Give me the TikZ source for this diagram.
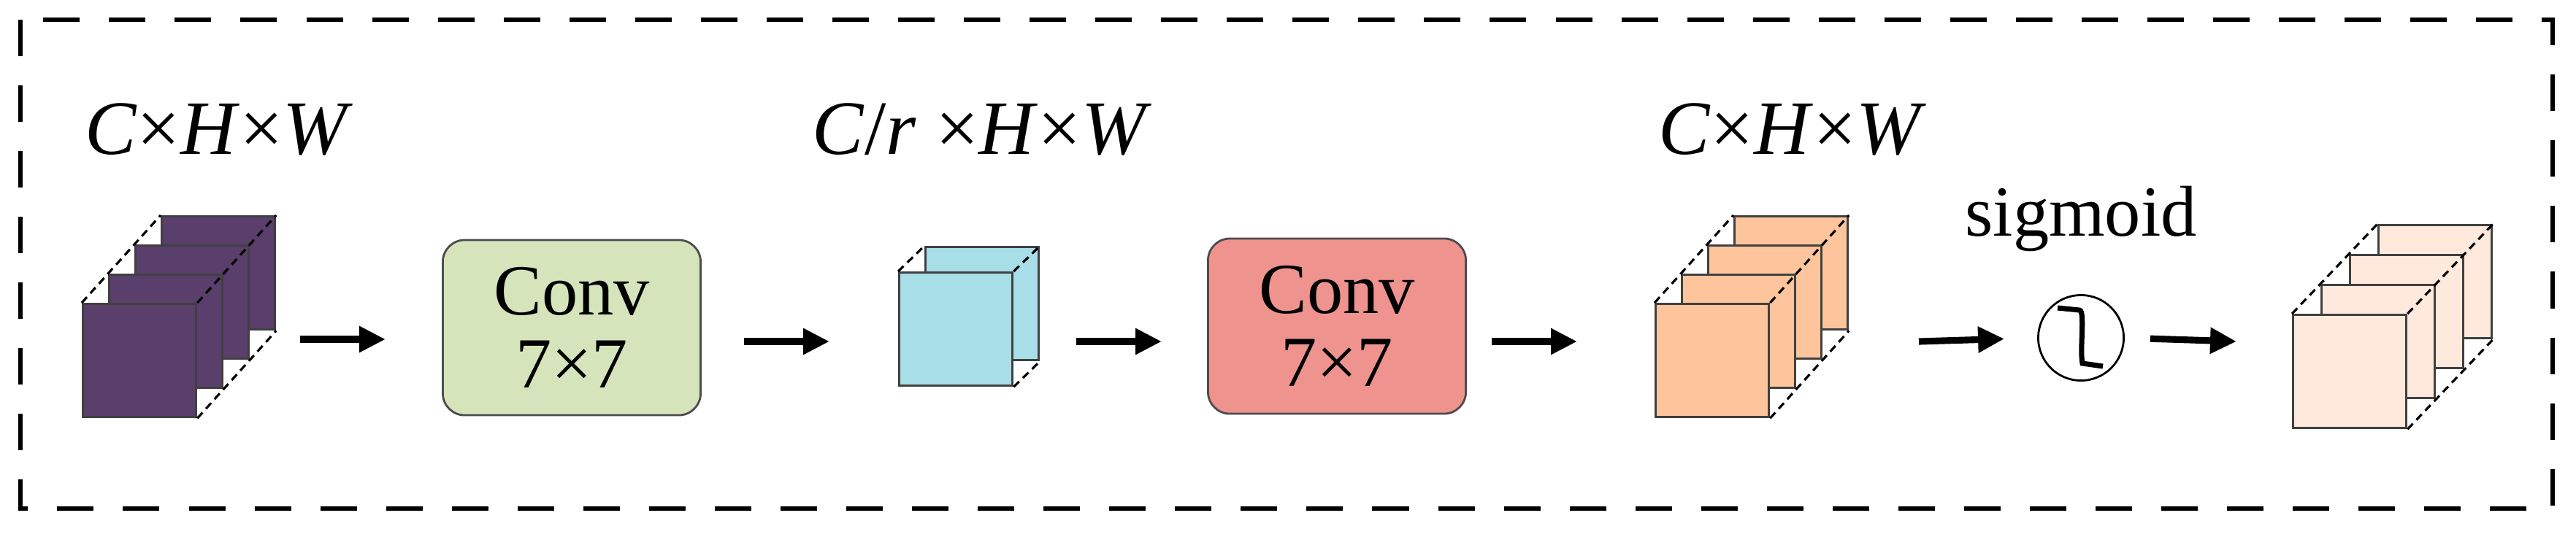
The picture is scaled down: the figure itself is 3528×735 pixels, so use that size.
\documentclass[tikz,border=0pt]{standalone}
\usepackage{fontspec}
\setmainfont{Liberation Serif}
\usetikzlibrary{arrows.meta}
\definecolor{purple1}	{RGB}{90,62,107}
\definecolor{green1}	{RGB}{214,228,188}
\definecolor{blue1}		{RGB}{168,222,232}
\definecolor{red1}		{RGB}{238,147,142}
\definecolor{orange1}	{RGB}{254,196,155}
\definecolor{pale1}		{RGB}{254,233,220}
\tikzstyle{plane}=	[rectangle, minimum width=1.55cm, minimum height=1.55cm, inner sep=0pt, draw=black!75, line width=0.9pt]
\tikzstyle{edge}=	[dashed, line width=0.9pt, dash pattern=on 3pt off 2pt]
\tikzstyle{conv}=	[rectangle, rounded corners=0.3cm, draw=black!70, line width=0.8pt, minimum width=3.53cm, minimum height=2.4cm, align=center, font=\fontsize{28}{28.5}\selectfont]
\tikzstyle{flow}=	[line width=2.6pt, -{Triangle[length=0.36cm, width=0.34cm]}]
\tikzstyle{dims}=	[font=\fontsize{30}{36}\selectfont]

\begin{document}
\begin{tikzpicture}[x=0.01cm, y=-0.01cm]
	\useasboundingbox (0,0) rectangle (3528,735);

	% frame
	\draw[line width=1.7pt, dash pattern=on 0.5cm off 0.4cm] (28,27) rectangle (3496,697);

	%%% input stack
	\foreach \i in {3,2,1,0}
		\node[plane, fill=purple1, anchor=north west] (a\i) at (112+36*\i, 415-40*\i) {};
	\draw[edge] (a0.north west) -- (a3.north west);
	\draw[edge] (a0.north east) -- (a3.north east);
	\draw[edge] (a0.south east) -- (a3.south east);
	\node[dims] (an) at (300,177) {\textit{C}×\textit{H}×\textit{W}};

	%%% first conv
	\node[conv, fill=green1] (c1) at (783,449) {Conv\\7×7};

	%%% reduced stack
	\foreach \i in {1,0}
		\node[plane, fill=blue1, anchor=north west] (b\i) at (1230+36*\i, 372-35*\i) {};
	\draw[edge] (b0.north west) -- (b1.north west);
	\draw[edge] (b0.north east) -- (b1.north east);
	\draw[edge] (b0.south east) -- (b1.south east);
	\node[dims] (bn) at (1345,177) {\textit{C}/\textit{r} ×\textit{H}×\textit{W}};

	%%% second conv
	\node[conv, fill=red1] (c2) at (1831,447) {Conv\\7×7};

	%%% restored stack
	\foreach \i in {3,2,1,0}
		\node[plane, fill=orange1, anchor=north west] (d\i) at (2266+36*\i, 415-40*\i) {};
	\draw[edge] (d0.north west) -- (d3.north west);
	\draw[edge] (d0.north east) -- (d3.north east);
	\draw[edge] (d0.south east) -- (d3.south east);
	\node[dims] (dn) at (2455,177) {\textit{C}×\textit{H}×\textit{W}};

	%%% sigmoid
	\node[circle, draw, line width=0.8pt, minimum size=1.17cm, inner sep=0pt] (sg) at (2850,463) {};
	\draw[line width=2pt] (2818,422) -- (2848,425) .. controls (2856,426) and (2848,480) .. (2852,498) -- (2880,502);
	\node[font=\fontsize{28}{34}\selectfont] (sn) at (2850,300) {sigmoid};

	%%% output stack
	\foreach \i in {3,2,1,0}
		\node[plane, fill=pale1, anchor=north west] (e\i) at (3139+39*\i, 430-41*\i) {};
	\draw[edge] (e0.north west) -- (e3.north west);
	\draw[edge] (e0.north east) -- (e3.north east);
	\draw[edge] (e0.south east) -- (e3.south east);

	%%% arrows
	\coordinate (f1s) at (411,465);  \coordinate (f1e) at (528,465);
	\coordinate (f2s) at (1019,468); \coordinate (f2e) at (1136,468);
	\coordinate (f3s) at (1474,468); \coordinate (f3e) at (1591,468);
	\coordinate (f4s) at (2043,468); \coordinate (f4e) at (2160,468);
	\coordinate (f5s) at (2628,468);
	\coordinate (f6e) at (3063,468);
	\draw[flow] (f1s) -- (f1e);
	\draw[flow] (f2s) -- (f2e);
	\draw[flow] (f3s) -- (f3e);
	\draw[flow] (f4s) -- (f4e);
	\draw[flow, shorten >=0.45cm] (f5s) -- (sg.west);
	\draw[flow, shorten <=0.35cm] (sg.east) -- (f6e);
\end{tikzpicture}
\end{document}
